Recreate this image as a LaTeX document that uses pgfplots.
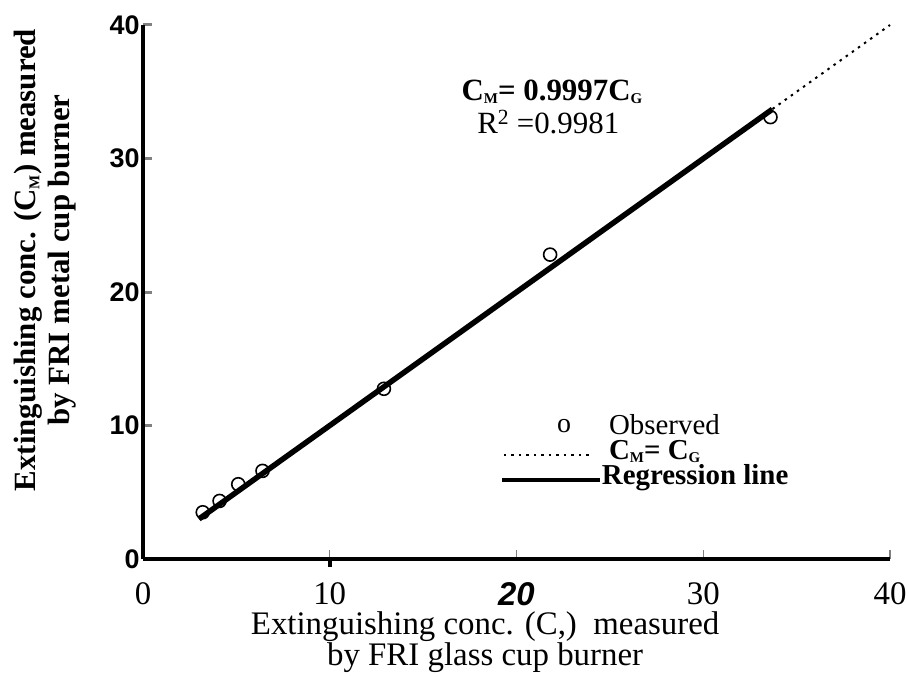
\documentclass[border=0pt]{standalone}
\usepackage{pgfplots}
\pgfplotsset{compat=1.18}
\usepackage{fontspec}
\setmainfont{Liberation Serif}
\setsansfont{Liberation Sans}
\newcommand{\sub}[1]{\raisebox{-0.12em}{\fontsize{15}{15}\selectfont #1}}
\begin{document}
\begin{tikzpicture}
\path[use as bounding box] (-143bp,-118bp) rectangle (766bp,559bp);
\begin{axis}[
  at={(0,0)}, anchor=south west,
  scale only axis, width=747bp, height=534bp,
  xmin=0, xmax=40, ymin=0, ymax=40,
  axis x line*=bottom, axis y line*=left,
  axis line style={line width=3.5bp,-},
  clip=false,
  tick align=inside,
  major tick length=9bp,
  xtick={0,10,20,30,40},
  xticklabels={0,10,{\sffamily\bfseries\itshape 20},30,40},
  xtick style={line width=1.3bp},
  xticklabel style={font=\fontsize{33}{33}\selectfont, anchor=center, yshift=-35bp},
  ytick={0,10,20,30,40},
  yticklabels={0,10,20,30,40},
  ytick style={line width=3bp},
  yticklabel style={font=\fontsize{27}{27}\selectfont\sffamily\bfseries, anchor=east},
  xlabel={Extinguishing conc. (C,)\ \ measured\\by FRI glass cup burner},
  xlabel style={font=\fontsize{33}{29}\selectfont, align=center, at={(axis description cs:0.458,-0.155)}, anchor=center},
  ylabel={Extinguishing conc. (C\sub{M}) measured\\by FRI metal cup burner},
  ylabel style={font=\fontsize{31}{34}\selectfont\bfseries, align=center, at={(axis description cs:-0.131,0.56)}, anchor=center},
  legend style={at={(axis cs:19.1,7.9)}, anchor=west, draw=none, fill=none,
    font=\fontsize{29}{29}\selectfont, row sep=6bp, inner sep=0pt,
    nodes={inner sep=0pt, text height=14bp, text depth=5bp}},
  legend cell align=left,
]
\addplot[only marks, mark=o, mark size=6.5bp, mark options={line width=1.6bp}, forget plot]
  coordinates {(3.2,3.5) (4.1,4.35) (5.1,5.6) (6.4,6.6) (12.9,12.75) (21.8,22.8) (33.6,33.1)};
\addplot[dash pattern=on 2.5bp off 5bp, line width=2bp, forget plot]
  coordinates {(3,3) (40,40)};
\addplot[line width=5.5bp, forget plot]
  coordinates {(3.0,3.0) (33.7,33.69)};
\addlegendimage{legend image code/.code={\node[inner sep=0pt,font=\fontsize{28}{28}\selectfont] at (55bp,2bp) {o};}}
\addlegendentry{\ Observed}
\addlegendimage{dash pattern=on 2.5bp off 5bp, line width=2bp, legend image code/.code={\draw (2bp,0bp) -- (87bp,0bp);}}
\addlegendentry{\ \textbf{C\sub{M}= C\sub{G}}}
\addlegendimage{line width=4bp, legend image code/.code={\draw (0bp,0bp) -- (98bp,0bp);}}
\addlegendentry{\textbf{Regression line}}
\draw[line width=4bp] (axis cs:10,0) -- ++(0,-8bp);
\node[font=\fontsize{31}{31}\selectfont\bfseries] at (axis cs:21.9,35.0) {C\sub{M}= 0.9997C\sub{G}};
\node[font=\fontsize{31}{31}\selectfont] at (axis cs:21.7,32.7) {R\textsuperscript{2} =0.9981};
\end{axis}
\end{tikzpicture}
\end{document}
